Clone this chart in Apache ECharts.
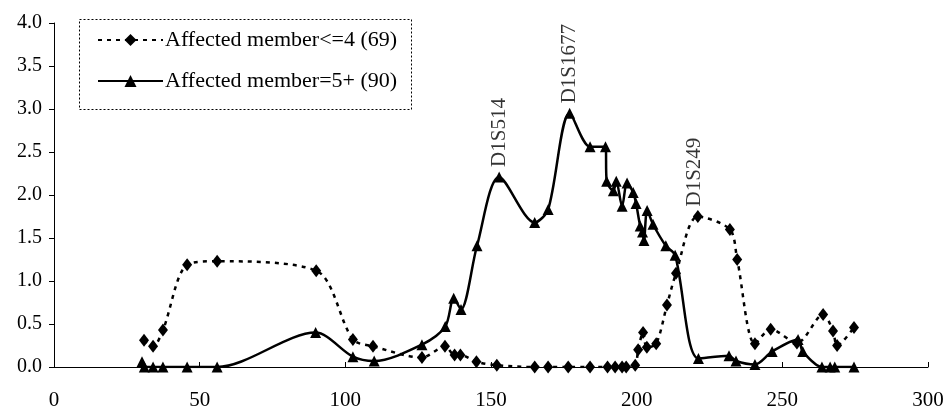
<!DOCTYPE html>
<html>
<head>
<meta charset="utf-8">
<script src="https://cdn.jsdelivr.net/npm/echarts@6/dist/echarts.min.js"></script>
<style>
html,body{margin:0;padding:0;background:#fff;}
#chart{width:948px;height:419px;}
</style>
</head>
<body>
<div id="chart"></div>
<script>
// Affected member<=4 (69)  (dotted, diamonds)
const dottedX = [30.9, 34, 37.4, 45.7, 56, 90, 102.6, 109.5, 126.3, 134.2, 137.5, 139.5, 145, 152, 165, 169.6, 176.5, 184, 190, 192.6, 195, 196.4, 199.5, 200.5, 202.2, 203.5, 206.7, 210.4, 213.5, 221, 232, 234.5, 240.6, 246, 255, 264, 267.4, 268.8, 274.6];
const dottedY = [0.31, 0.24, 0.43, 1.19, 1.23, 1.12, 0.32, 0.24, 0.11, 0.24, 0.14, 0.14, 0.06, 0.02, 0, 0, 0, 0, 0, 0, 0, 0, 0.02, 0.2, 0.4, 0.23, 0.27, 0.72, 1.09, 1.75, 1.60, 1.25, 0.27, 0.44, 0.28, 0.61, 0.42, 0.25, 0.46];
// Affected member=5+ (90)  (solid, triangles)
const solidX = [30.2, 31, 34, 37.4, 45.7, 56, 89.8, 102.6, 109.9, 126.3, 134.3, 137.2, 139.7, 145.2, 152.8, 165, 169.6, 177, 184, 189.3, 189.7, 192, 193, 195, 196.7, 198.8, 199.8, 201.2, 202, 202.5, 203.6, 205.6, 210, 213.2, 221.2, 231.7, 234.1, 240.6, 246.5, 255.4, 257, 263.6, 266.4, 268, 274.6];
const solidY = [0.06, 0, 0, 0, 0, 0, 0.40, 0.12, 0.07, 0.26, 0.47, 0.80, 0.67, 1.41, 2.21, 1.68, 1.83, 2.95, 2.56, 2.56, 2.16, 2.05, 2.16, 1.87, 2.14, 2.03, 1.90, 1.64, 1.57, 1.47, 1.82, 1.66, 1.41, 1.30, 0.10, 0.13, 0.07, 0.03, 0.18, 0.32, 0.18, 0, 0, 0, 0];
// marker annotations
const markerNames = ['D1S514', 'D1S1677', 'D1S249'];
const markerX = [152.8, 177, 220];
const markerY = [2.21, 2.95, 1.75];
const seriesNames = ['Affected member<=4 (69)', 'Affected member=5+ (90)'];
const xTicks = [0, 50, 100, 150, 200, 250, 300];
const yTicks = [0, 0.5, 1, 1.5, 2, 2.5, 3, 3.5, 4];

const FONT = 'Liberation Serif';
const chart = echarts.init(document.getElementById('chart'), null, {renderer: 'canvas'});
const pairs = (xs, ys) => xs.map((x, i) => [x, ys[i]]);

chart.setOption({
  animation: false,
  backgroundColor: '#ffffff',
  grid: {left: 54, right: 20, top: 23, bottom: 52, containLabel: false},
  xAxis: {
    type: 'value', min: xTicks[0], max: xTicks[xTicks.length - 1], interval: 50,
    axisLine: {show: true, lineStyle: {color: '#000', width: 1}},
    axisTick: {show: true, inside: true, length: 5, lineStyle: {color: '#000'}},
    axisLabel: {color: '#000', fontFamily: FONT, fontSize: 21, margin: 23},
    splitLine: {show: false}
  },
  yAxis: {
    type: 'value', min: yTicks[0], max: yTicks[yTicks.length - 1], interval: 0.5,
    axisLine: {show: true, lineStyle: {color: '#000', width: 1}},
    axisTick: {show: true, inside: false, length: 5, lineStyle: {color: '#000'}},
    axisLabel: {color: '#000', fontFamily: FONT, fontSize: 20, margin: 12, formatter: v => v.toFixed(1)},
    splitLine: {show: false}
  },
  legend: {
    data: seriesNames,
    orient: 'vertical', left: 92, top: 24,
    itemWidth: 65, itemHeight: 15, itemGap: 19,
    textStyle: {color: '#000', fontFamily: FONT, fontSize: 22, padding: [0, 0, 0, -3]},
    selectedMode: false
  },
  graphic: [{
    type: 'rect', left: 77, top: 17, z: 100,
    shape: {width: 332, height: 90},
    style: {fill: 'none', stroke: '#000', lineWidth: 1, lineDash: [2, 2]}
  }],
  series: [
    {
      name: seriesNames[0], type: 'line', data: pairs(dottedX, dottedY),
      smooth: 0.3, symbol: 'diamond', symbolSize: [10, 13], showSymbol: true,
      lineStyle: {color: '#000', width: 2.5, type: [4, 5]},
      itemStyle: {color: '#000'}, z: 3
    },
    {
      name: seriesNames[1], type: 'line', data: pairs(solidX, solidY),
      smooth: 0.3, symbol: 'triangle', symbolSize: 11, showSymbol: true,
      lineStyle: {color: '#000', width: 2.5, type: 'solid'},
      itemStyle: {color: '#000'}, z: 4
    },
    {
      name: 'markers', type: 'scatter', symbolSize: 0,
      data: markerNames.map((n, i) => ({name: n, value: [markerX[i], markerY[i]]})),
      label: {
        show: true, position: 'top', distance: 10, rotate: 90,
        align: 'left', verticalAlign: 'middle',
        formatter: p => p.name, color: '#000', fontFamily: FONT, fontSize: 21
      },
      silent: true, z: 5
    }
  ]
});
</script>
</body>
</html>
